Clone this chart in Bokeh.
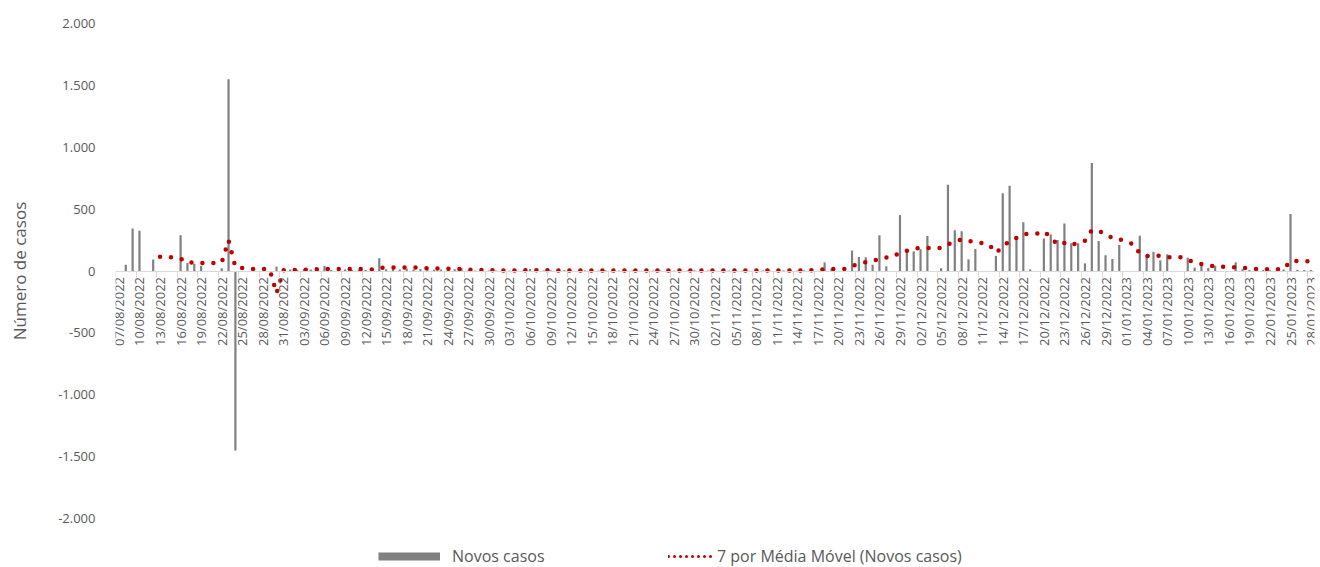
from math import pi
import pandas as pd
from bokeh.plotting import figure
from bokeh.layouts import column
from bokeh.models import Range1d, LinearAxis, FixedTicker, Legend, LegendItem
from bokeh.embed import file_html
from bokeh.resources import INLINE

# ---------------- data ----------------
datas = [d.strftime("%d/%m/%Y") for d in pd.date_range("2022-08-07", "2023-01-28")]

novos_ago = [0, 50, 343, 325, 0, 92, 0, 0, 0, 289,
             65, 59, 43, 0, 0, 22, 1550, -1450, 0, 0,
             0, 0, 0, 35, 0]
novos_set = [12, 10, 15, 12, 14, 40, 8, 10, 12, 9,
             11, 8, 14, 103, 14, 16, 12, 18, 13, 15,
             32, 10, 12, 8, 14, 22, 4, 3, 5, 4]
novos_out = [4, 6, 3, 5, 4, 16, 3, 4, 5, 3,
             6, 4, 2, 5, 4, 3, 6, 4, 3, 5,
             4, 2, 6, 3, 4, 5, 3, 2, 4, 5,
             3]
novos_nov = [4, 2, 5, 3, 4, 3, 2, 5, 4, 3,
             2, 4, 6, 3, 5, 18, 0, 70, 19, 0,
             0, 165, 113, 111, 51, 289, 38, 0, 453, 165]
novos_dez = [157, 175, 283, 0, 22, 696, 329, 322, 94, 178,
             0, 0, 122, 629, 688, 259, 394, 13, 0, 262,
             294, 251, 383, 224, 224, 62, 872, 243, 127, 97,
             211]
novos_jan = [0, 0, 285, 128, 155, 86, 135, 0, 0, 108,
             27, 43, 24, 43, 0, 0, 70, 15, 8, 10,
             8, 6, 10, 12, 460, 10, 8, 8]
novos_casos = novos_ago + novos_set + novos_out + novos_nov + novos_dez + novos_jan

# 7-day moving average, starts on the 7th day (13/08/2022)
mm_ago = [116, 116, 109, 101, 64, 72, 65, 65, 65, 68,
          248, 32, 24, 17, 17, 17, 14, -180, 6]
mm_set = [7, 8, 10, 12, 14, 17, 16, 16, 16, 15,
          16, 14, 13, 27, 27, 28, 28, 29, 28, 28,
          21, 21, 19, 19, 19, 14, 12, 9, 7, 6]
mm_out = [5, 5, 5, 5, 5, 6, 6, 6, 6, 5,
          5, 5, 4, 4, 4, 4, 4, 4, 4, 4,
          4, 4, 4, 4, 4, 4, 4, 4, 4, 4,
          4]
mm_nov = [4, 4, 4, 4, 4, 4, 4, 4, 4, 4,
          4, 4, 4, 4, 4, 6, 6, 15, 17, 17,
          17, 41, 56, 71, 78, 103, 108, 115, 151, 164]
mm_dez = [179, 187, 186, 185, 186, 215, 241, 255, 245, 232,
          226, 215, 148, 195, 245, 268, 298, 300, 302, 320,
          272, 212, 226, 206, 234, 244, 330, 320, 305, 265,
          260]
mm_jan = [232, 220, 140, 121, 124, 122, 112, 112, 111, 87,
          73, 57, 47, 37, 35, 34, 30, 26, 20, 17,
          14, 13, 14, 15, 79, 80, 79, 78]
media_movel = mm_ago + mm_set + mm_out + mm_nov + mm_dez + mm_jan

y_ticks = [-2000, -1500, -1000, -500, 0, 500, 1000, 1500, 2000]
y_tick_labels = ["-2.000", "-1.500", "-1.000", "-500", "0", "500", "1.000", "1.500", "2.000"]

serie_barras = "Novos casos"
serie_linha = "7 por Média Móvel (Novos casos)"
titulo_y = "Número de casos"

# ---------------- style ----------------
FONT = "Open Sans"
TXT = "#595959"
BAR = "#808080"
RED = "#C00000"
AXIS = "#D9D9D9"

n = len(datas)
xs = list(range(n))
xs_mm = xs[n - len(media_movel):]

p = figure(width=1320, height=540, output_backend="svg", toolbar_location=None,
           x_range=Range1d(-0.5, n - 0.5), y_range=Range1d(-2000, 2000),
           x_axis_location=None, y_axis_location=None,
           min_border_left=115, min_border_right=6, min_border_top=23, min_border_bottom=22)
p.outline_line_color = None
for g in p.grid:
    g.visible = False

bars = p.vbar(x=xs, top=novos_casos, bottom=0, width=0.32,
              fill_color=BAR, line_color=None)
p.line(x=xs_mm, y=media_movel, line_color=RED, line_width=4.5,
       line_dash="0 11", line_cap="round", line_join="round")

# category axis crossing at zero: tick marks at category boundaries
tick_axis = LinearAxis(fixed_location=0,
                       ticker=FixedTicker(ticks=[k - 0.5 for k in range(0, n, 3)]),
                       major_label_text_alpha=0, major_label_text_font_size="1px",
                       axis_line_color=AXIS, axis_line_width=1,
                       major_tick_line_color=AXIS, major_tick_in=0, major_tick_out=6,
                       minor_tick_line_color=None)
p.add_layout(tick_axis, "below")

label_pos = list(range(0, n, 3))
label_axis = LinearAxis(fixed_location=0,
                        ticker=FixedTicker(ticks=label_pos),
                        major_label_overrides={k: datas[k] for k in label_pos},
                        major_label_orientation=pi / 2,
                        major_label_standoff=6,
                        major_label_text_font=FONT, major_label_text_font_size="13px",
                        major_label_text_color=TXT,
                        axis_line_color=None, major_tick_line_color=None,
                        major_tick_in=0, major_tick_out=0,
                        minor_tick_line_color=None)
p.add_layout(label_axis, "below")

yaxis = LinearAxis(ticker=FixedTicker(ticks=y_ticks),
                   major_label_overrides=dict(zip(y_ticks, y_tick_labels)),
                   axis_line_color=None, major_tick_line_color=None,
                   minor_tick_line_color=None, major_tick_in=0, major_tick_out=0,
                   major_label_standoff=20,
                   major_label_text_font=FONT, major_label_text_font_size="13px",
                   major_label_text_color=TXT,
                   axis_label=titulo_y, axis_label_text_font=FONT,
                   axis_label_text_font_size="17px", axis_label_text_font_style="normal",
                   axis_label_text_color=TXT, axis_label_standoff=24)
p.add_layout(yaxis, "left")

# ---------------- legend strip ----------------
# (frame of this strip is aligned with the main frame, whose left edge is at 115px)
lf = figure(width=1320, height=27, output_backend="svg", toolbar_location=None,
            x_range=Range1d(0, 1), y_range=Range1d(0, 1),
            x_axis_location=None, y_axis_location=None,
            min_border_left=115, min_border_right=6, min_border_top=0, min_border_bottom=0)
lf.outline_line_color = None
for g in lf.grid:
    g.visible = False
# legend-only renderers, kept outside the visible range
r_bar = lf.line(x=[-3, -2], y=[-3, -3], line_color=BAR, line_width=8)
r_mm = lf.line(x=[-3, -2], y=[-3, -3], line_color=RED, line_width=3,
               line_dash="0 6", line_cap="round")

common = dict(orientation="horizontal", glyph_height=10,
              label_text_font=FONT, label_text_font_size="16px", label_text_color=TXT,
              background_fill_alpha=0, border_line_color=None, padding=0, margin=0)
leg1 = Legend(items=[LegendItem(label=serie_barras, renderers=[r_bar])],
              location=(378 - 115, 0), glyph_width=62, label_standoff=12, **common)
leg2 = Legend(items=[LegendItem(label=serie_linha, renderers=[r_mm])],
              location=(668 - 115, 0), glyph_width=44, label_standoff=5, **common)
lf.add_layout(leg1, "center")
lf.add_layout(leg2, "center")

layout = column(p, lf, spacing=0)
open("out.html", "w").write(file_html(layout, INLINE))
